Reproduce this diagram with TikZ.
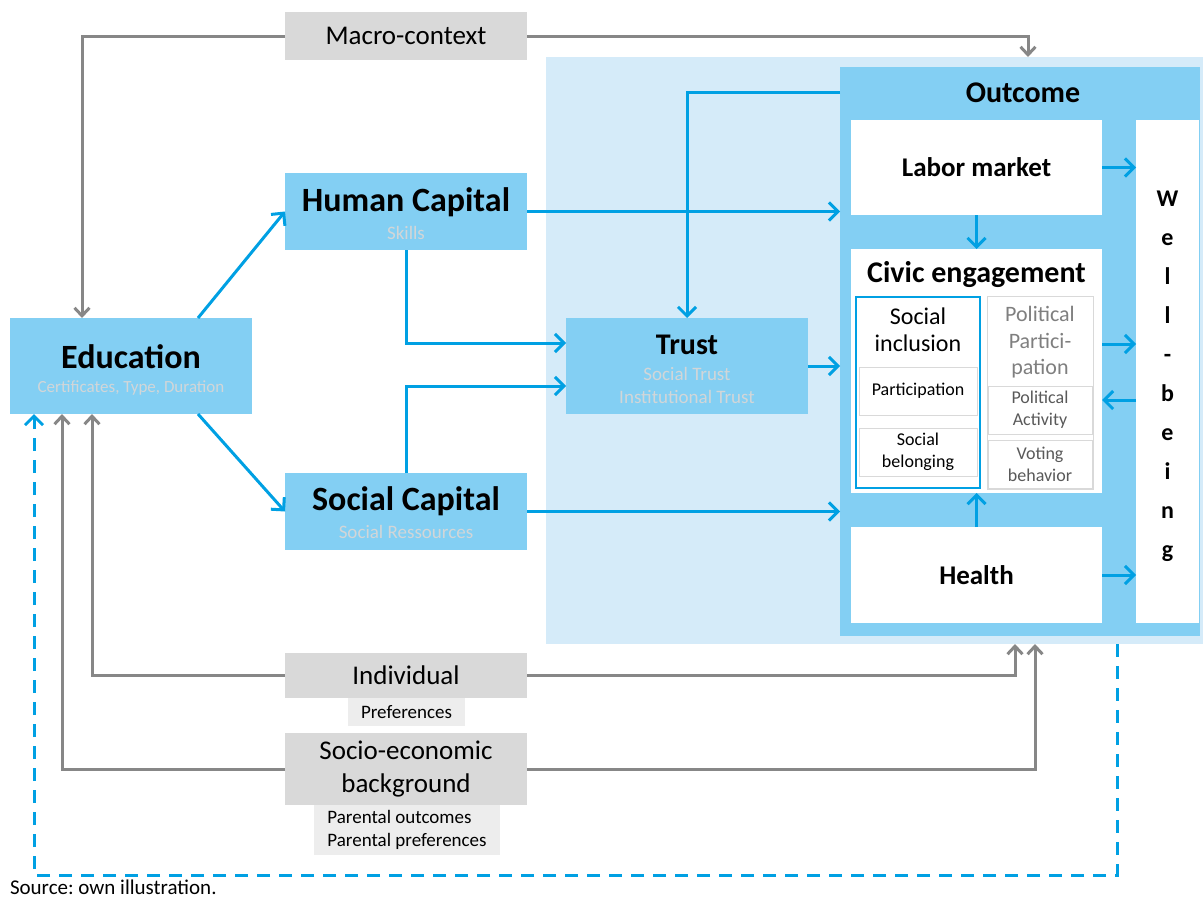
\documentclass[tikz,border=0pt]{standalone}
\usepackage{fontspec}
\setmainfont{Carlito}
\usetikzlibrary{positioning,arrows.meta}

\definecolor{bgblue}{HTML}{D5EBF9}
\definecolor{boxblue}{HTML}{83CFF3}
\definecolor{arrblue}{HTML}{00A0E3}
\definecolor{boxgrey}{HTML}{D9D9D9}
\definecolor{lightgrey}{HTML}{EDEDED}
\definecolor{arrgrey}{HTML}{878787}
\definecolor{subgrey}{HTML}{D2D6D8}
\definecolor{polgrey}{HTML}{7F7F7F}
\definecolor{txtgrey}{HTML}{595959}

\begin{document}
\begin{tikzpicture}[
  x=1pt, y=-1pt,
  every node/.style={inner sep=0pt,outer sep=0pt,align=center},
  box/.style={fill=boxblue,minimum width=242pt},
  ctx/.style={fill=boxgrey,minimum width=242pt,font=\fontsize{27}{33}\selectfont},
  note/.style={fill=lightgrey,font=\fontsize{19}{23}\selectfont},
  wbox/.style={fill=white,minimum width=251pt,font=\fontsize{27}{30}\selectfont\bfseries},
  tl/.style={font=\fontsize{34}{38}\selectfont\bfseries},
  sub/.style={text=subgrey,font=\fontsize{19}{23}\selectfont},
  ibox/.style={draw=boxgrey,line width=1pt,fill=white,font=\fontsize{18}{22}\selectfont},
  ab/.style={draw=arrblue,line width=3pt,-{Straight Barb[length=9pt,width=18pt]}},
  ag/.style={draw=arrgrey,line width=3pt,-{Straight Barb[length=8pt,width=15pt]}}
]
\useasboundingbox (0,0) rectangle (1203,897);

% outcome block
\node[fill=bgblue,minimum width=657pt,minimum height=587pt] (bg) at (874.5,350.5) {};
\node[fill=boxblue,minimum width=360pt,minimum height=569pt] (out) at (1020,351.5) {};
\node[font=\fontsize{30}{34}\selectfont\bfseries] (outt) at (1023,93) {Outcome};

\node[wbox,minimum height=95pt] (lab) at (976.5,167.5) {Labor market};
\node[wbox,minimum height=244pt] (civ) at (976.5,371) {};
\node[font=\fontsize{30}{34}\selectfont\bfseries] (civt) at (976.5,275) {Civic engagement};
\node[wbox,minimum height=96pt] (hea) at (976.5,575) {Health};
\node[fill=white,minimum width=63pt,minimum height=503pt] (wb) at (1167.5,371.5) {};
\node[font=\fontsize{24}{39}\selectfont\bfseries] (wbt) at (1167.5,376) {W\\e\\l\\l\\-\\b\\e\\i\\n\\g};

\node[draw=arrblue,line width=2pt,minimum width=124pt,minimum height=191pt] (si) at (918,392.5) {};
\node[font=\fontsize{24}{27}\selectfont] (sit) at (918,330) {Social\\inclusion};
\node[ibox,minimum width=118pt,minimum height=48pt] (part) at (918,391) {Participation};
\node[ibox,minimum width=118pt,minimum height=48pt] (bel) at (918,452) {Social\\belonging};

\node[draw=boxgrey,line width=1pt,minimum width=106pt,minimum height=193pt] (pp) at (1040,392.5) {};
\node[font=\fontsize{22}{26.5}\selectfont,text=polgrey] (ppt) at (1040,342.5) {Political\\Partici-\\pation};
\node[ibox,minimum width=104pt,minimum height=48pt,text=txtgrey] (act) at (1040,410) {Political\\Activity};
\node[ibox,minimum width=104pt,minimum height=48pt,text=txtgrey] (vot) at (1040,464) {Voting\\behavior};

% main path
\node[box,minimum height=96pt] (edu) at (131,366) {};
\node[tl] (edut) at (131,357) {Education};
\node[sub,font=\fontsize{17}{23}\selectfont] (edus) at (131,388) {Certificates, Type, Duration};

\node[box,minimum height=77pt] (hc) at (406,211.5) {};
\node[tl] (hct) at (406,202) {Human Capital};
\node[sub] (hcs) at (406,233) {Skills};

\node[box,minimum height=77pt] (sc) at (406,511.5) {};
\node[tl] (sct) at (406,501) {Social Capital};
\node[sub] (scs) at (406,532) {Social Ressources};

\node[box,minimum height=96pt] (trust) at (687,366) {};
\node[tl,font=\fontsize{30}{34}\selectfont\bfseries] (trt) at (687,345) {Trust};
\node[sub] (trs) at (687,385.5) {Social Trust\\Institutional Trust};

% context
\node[ctx,minimum height=48pt] (mac) at (406,36) {Macro-context};
\node[ctx,minimum height=45pt] (ind) at (406,675.5) {Individual};
\node[note,minimum width=117pt,minimum height=28pt] (pref) at (406.5,712) {Preferences};
\node[ctx,minimum height=72pt] (ses) at (406,769) {Socio-economic\\background};
\node[note,minimum width=186pt,minimum height=50pt,align=left] (par) at (407,830) {Parental outcomes\\Parental preferences};

\node[anchor=base west,font=\fontsize{21}{24}\selectfont] (src) at (10,894) {Source:\ own illustration.};

% blue links
\draw[ab] ([xshift=-54pt]edu.north east) -- (hc.west);
\draw[ab] ([xshift=-54pt]edu.south east) -- (sc.west);
\draw[ab] (hc.south) |- ([yshift=23pt]trust.west);
\draw[ab] (sc.north) |- ([yshift=-20pt]trust.west);
\draw[ab] ([yshift=-25pt]out.north west) -| (trust.north);
\draw[ab] (hc.east) -- (hc.east -| out.west);
\draw[ab] (sc.east) -- (sc.east -| out.west);
\draw[ab] (trust.east) -- (trust.east -| out.west);

% inside outcome
\draw[ab] (lab.south) -- (civ.north);
\draw[ab] (hea.north) -- (civ.south);
\draw[ab] (lab.east) -- (lab.east -| wb.west);
\draw[ab] ([yshift=27pt]civ.east) -- ([yshift=27pt]civ.east -| wb.west);
\draw[ab] ([yshift=-29pt]civ.east -| wb.west) -- ([yshift=-29pt]civ.east);
\draw[ab] (hea.east) -- (hea.east -| wb.west);

% grey context links
\draw[ag] (mac.west) -| ([xshift=-49pt]edu.north);
\draw[ag] (mac.east) -| ([xshift=8pt]out.north |- bg.north);
\draw[ag] (ind.west) -| ([xshift=-39pt]edu.south);
\draw[ag] (ind.east) -| ([xshift=-5pt]out.south |- bg.south);
\draw[ag] (ses.west) -| ([xshift=-69pt]edu.south);
\draw[ag] (ses.east) -| ([xshift=15pt]out.south |- bg.south);

% feedback
\coordinate (fb) at (1117,875);
\draw[ab,dash pattern=on 13pt off 9pt] (bg.south -| fb) -- (fb) -| ([xshift=-97pt]edu.south);

\end{tikzpicture}
\end{document}
